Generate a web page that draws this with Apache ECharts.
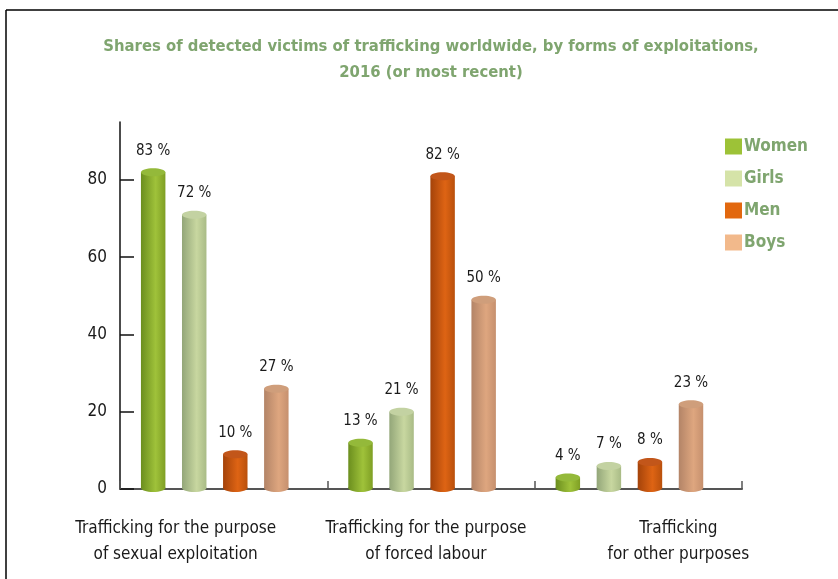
<!DOCTYPE html>
<html>
<head>
<meta charset="utf-8">
<script src="https://cdn.jsdelivr.net/npm/echarts@6/dist/echarts.min.js"></script>
<style>
  html, body { margin: 0; padding: 0; background: #fff; }
  #chart { width: 838px; height: 579px; }
</style>
</head>
<body>
<div id="chart"></div>
<script>
// data
const categories = [
  "Trafficking for the purpose\nof sexual exploitation",
  "Trafficking for the purpose\nof forced labour",
  "Trafficking\nfor other purposes"
];
const women = [83, 13, 4];
const girls = [72, 21, 7];
const men = [10, 82, 8];
const boys = [27, 50, 23];
const yTicks = [0, 20, 40, 60, 80];

const FONT = "'Liberation Sans Narrow', 'DejaVu Sans Condensed', sans-serif";
const titleGreen = "#7fa56f";

// cylinder colours: body gradient left/mid/right, top cap, legend swatch
const looks = [
  { name: "Women", data: women, body: ["#6b8e1e", "#9fc23a", "#7f9f24"], cap: "#94b93a", swatch: "#9dc237" },
  { name: "Girls", data: girls, body: ["#93a679", "#c8d7a0", "#a9bb86"], cap: "#c3d2a2", swatch: "#d5e3a8" },
  { name: "Men", data: men, body: ["#a4430a", "#de6414", "#b9500c"], cap: "#c2561a", swatch: "#e2680f" },
  { name: "Boys", data: boys, body: ["#b38467", "#dea67f", "#c6906e"], cap: "#cf9e7b", swatch: "#f2b98b" }
];

// per-category shift of the x labels (they are not centred in the source)
const labelShift = [-48, -5, 40];

const chart = echarts.init(document.getElementById("chart"));

function cylinder(k, look) {
  return function (params, api) {
    const cat = api.value(0);
    const v = api.value(1);
    const band = api.size([1, 0])[0];
    const top = api.coord([cat, v]);
    const base = api.coord([cat, 0]);
    const step = band * 0.198;
    const w = band * 0.118;
    const cx = top[0] - band * 0.043 + (k - 1.5) * step;
    const ry = 4;
    const grad = new echarts.graphic.LinearGradient(0, 0, 1, 0, [
      { offset: 0, color: look.body[0] },
      { offset: 0.6, color: look.body[1] },
      { offset: 1, color: look.body[2] }
    ]);
    return {
      type: "group",
      children: [
        { type: "ellipse", shape: { cx: cx, cy: base[1] - 1, rx: w / 2, ry: ry }, style: { fill: grad } },
        { type: "rect", shape: { x: cx - w / 2, y: top[1] + ry, width: w, height: base[1] - 1 - top[1] - ry }, style: { fill: grad } },
        { type: "ellipse", shape: { cx: cx, cy: top[1] + ry, rx: w / 2, ry: ry }, style: { fill: look.cap } },
        {
          type: "text",
          x: cx, y: top[1] - 10,
          style: {
            text: v + " %", fill: "#1a1a1a", font: "15px " + FONT,
            align: "center", verticalAlign: "bottom"
          }
        }
      ]
    };
  };
}

const option = {
  animation: false,
  title: {
    text: "Shares of detected victims of trafficking worldwide, by forms of exploitations,\n2016 (or most recent)",
    left: 426, top: 29, textAlign: "center",
    textStyle: { color: titleGreen, fontFamily: FONT, fontWeight: "bold", fontSize: 16.5, lineHeight: 26 }
  },
  legend: {
    orient: "vertical", left: 720, top: 133,
    itemWidth: 17, itemHeight: 16, itemGap: 15, icon: "rect",
    textStyle: { color: titleGreen, fontFamily: FONT, fontWeight: "bold", fontSize: 17, padding: [0, 0, 0, -3] },
    data: looks.map(l => l.name)
  },
  grid: { left: 120, right: 96, top: 122, bottom: 90 },
  xAxis: {
    type: "category",
    data: categories,
    axisLine: { lineStyle: { color: "#555", width: 2 } },
    axisTick: { show: true, inside: true, length: 8, interval: 0, lineStyle: { color: "#555", width: 1.5 } },
    axisLabel: {
      margin: 27, interval: 0, hideOverlap: false,
      formatter: function (val, i) {
        const tag = "c" + i;
        return val.split("\n").map(t => "{" + tag + "|" + t + "}").join("\n");
      },
      rich: (function () {
        const r = {};
        labelShift.forEach(function (s, i) {
          const pad = s < 0 ? [0, -2 * s, 0, 0] : [0, 0, 0, 2 * s];
          r["c" + i] = { fontFamily: FONT, fontSize: 17, color: "#1a1a1a", lineHeight: 26, padding: pad };
        });
        return r;
      })()
    }
  },
  yAxis: {
    type: "value", min: 0, max: 95, interval: 20,
    axisLine: { show: true, lineStyle: { color: "#111", width: 1.5 } },
    axisTick: { show: true, inside: true, length: 14, customValues: yTicks, lineStyle: { color: "#111", width: 1.5 } },
    axisLabel: { customValues: yTicks, color: "#1a1a1a", fontFamily: FONT, fontSize: 17, margin: 13 },
    splitLine: { show: false }
  },
  graphic: [
    { type: "line", shape: { x1: 6, y1: 10, x2: 838, y2: 10 }, style: { stroke: "#000", lineWidth: 1.5 } },
    { type: "line", shape: { x1: 6, y1: 10, x2: 6, y2: 579 }, style: { stroke: "#000", lineWidth: 1.5 } }
  ],
  series: looks.map(function (look, k) {
    return {
      name: look.name,
      type: "custom",
      itemStyle: { color: look.swatch },
      renderItem: cylinder(k, look),
      encode: { x: 0, y: 1 },
      data: look.data.map(function (v, i) { return [i, v]; })
    };
  })
};

chart.setOption(option);
</script>
</body>
</html>
